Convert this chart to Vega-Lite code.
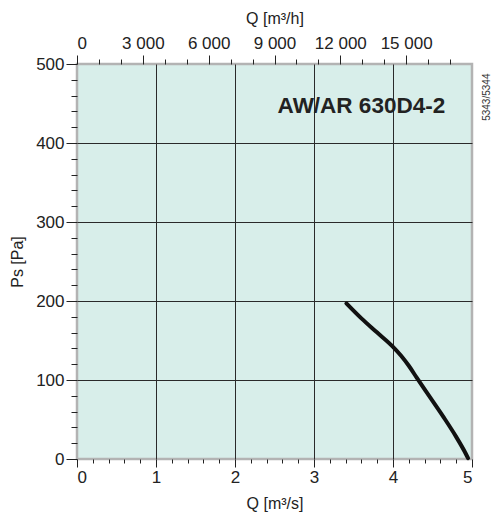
{
  "$schema": "https://vega.github.io/schema/vega-lite/v6.json",
  "width": 395,
  "height": 395,
  "autosize": {"type": "none"},
  "padding": {"left": 77, "top": 64, "right": 22, "bottom": 54},
  "background": "white",
  "config": {
    "view": {"fill": "#d8eeea", "stroke": "#b3b3b3", "strokeWidth": 2.5},
    "font": "Liberation Sans",
    "axis": {
      "labelFont": "Liberation Sans",
      "titleFont": "Liberation Sans",
      "labelFontSize": 17,
      "titleFontSize": 16,
      "titleFontWeight": "normal",
      "labelColor": "#222",
      "titleColor": "#222",
      "tickColor": "#222",
      "tickWidth": 1,
      "domain": false,
      "labelOverlap": false,
      "gridColor": "#2a2a2a",
      "gridWidth": 1
    }
  },
  "datasets": {
    "curve": [
      {"Q": 3.41, "Ps": 197},
      {"Q": 3.6, "Ps": 178},
      {"Q": 3.8, "Ps": 160},
      {"Q": 4.0, "Ps": 142},
      {"Q": 4.1, "Ps": 131},
      {"Q": 4.2, "Ps": 118},
      {"Q": 4.3, "Ps": 103},
      {"Q": 4.47, "Ps": 78},
      {"Q": 4.64, "Ps": 53},
      {"Q": 4.8, "Ps": 28},
      {"Q": 4.92, "Ps": 7},
      {"Q": 4.95, "Ps": 1}
    ],
    "title": [{"label": "AW/AR 630D4-2", "Q": 3.6, "Ps": 438}],
    "code": [{"label": "5343/5344", "Q": 5.19, "Ps": 458}],
    "top": [{"Qh": 0}, {"Qh": 18000}]
  },
  "resolve": {"scale": {"x": "independent", "y": "independent"}, "axis": {"x": "independent", "y": "independent"}},
  "layer": [
    {
      "data": {"name": "curve"},
      "mark": {"type": "line", "color": "#111", "strokeWidth": 4, "strokeCap": "round", "interpolate": "monotone"},
      "encoding": {
        "x": {
          "field": "Q", "type": "quantitative",
          "scale": {"domain": [0, 5], "nice": false},
          "axis": {
            "orient": "bottom",
            "title": "Q [m³/s]",
            "values": [0, 0.2, 0.4, 0.6, 0.8, 1, 1.2, 1.4, 1.6, 1.8, 2, 2.2, 2.4, 2.6, 2.8, 3, 3.2, 3.4, 3.6, 3.8, 4, 4.2, 4.4, 4.6, 4.8, 5],
            "labelExpr": "datum.value % 1 === 0 ? format(datum.value, 'd') : ''",
            "labelPadding": 2,
            "tickSize": {"condition": {"test": "datum.value % 1 === 0", "value": 8}, "value": 4},
            "grid": true,
            "gridOpacity": {"condition": {"test": "datum.value % 1 === 0 && datum.value > 0 && datum.value < 5", "value": 1}, "value": 0},
            "titlePadding": 10
          }
        },
        "y": {
          "field": "Ps", "type": "quantitative",
          "scale": {"domain": [0, 500], "nice": false},
          "axis": {
            "orient": "left",
            "title": "Ps [Pa]",
            "values": [0, 20, 40, 60, 80, 100, 120, 140, 160, 180, 200, 220, 240, 260, 280, 300, 320, 340, 360, 380, 400, 420, 440, 460, 480, 500],
            "labelExpr": "datum.value % 100 === 0 ? format(datum.value, 'd') : ''",
            "labelPadding": 2,
            "tickSize": {"condition": {"test": "datum.value % 100 === 0", "value": 11}, "value": 6},
            "grid": true,
            "gridOpacity": {"condition": {"test": "datum.value % 100 === 0 && datum.value > 0 && datum.value < 500", "value": 1}, "value": 0},
            "titlePadding": 10
          }
        }
      }
    },
    {
      "data": {"name": "title"},
      "mark": {"type": "text", "fontSize": 22.5, "fontWeight": "bold", "color": "#222", "align": "center", "baseline": "alphabetic", "font": "Liberation Sans"},
      "encoding": {
        "x": {"field": "Q", "type": "quantitative", "scale": {"domain": [0, 5], "nice": false}, "axis": null},
        "y": {"field": "Ps", "type": "quantitative", "scale": {"domain": [0, 500], "nice": false}, "axis": null},
        "text": {"field": "label"}
      }
    },
    {
      "data": {"name": "code"},
      "mark": {"type": "text", "fontSize": 10, "color": "#333", "align": "center", "baseline": "middle", "angle": 270, "font": "Liberation Sans"},
      "encoding": {
        "x": {"field": "Q", "type": "quantitative", "scale": {"domain": [0, 5], "nice": false}, "axis": null},
        "y": {"field": "Ps", "type": "quantitative", "scale": {"domain": [0, 500], "nice": false}, "axis": null},
        "text": {"field": "label"}
      }
    },
    {
      "data": {"name": "top"},
      "mark": {"type": "point", "opacity": 0},
      "encoding": {
        "x": {
          "field": "Qh", "type": "quantitative",
          "scale": {"domain": [0, 18000], "nice": false},
          "axis": {
            "orient": "top",
            "title": "Q [m³/h]",
            "values": [0, 1000, 2000, 3000, 4000, 5000, 6000, 7000, 8000, 9000, 10000, 11000, 12000, 13000, 14000, 15000, 16000, 17000],
            "labelExpr": "datum.value % 3000 === 0 ? (datum.value === 0 ? '0' : format(datum.value / 1000, 'd') + ' 000') : ''",
            "labelPadding": 3,
            "tickSize": {"condition": {"test": "datum.value % 3000 === 0", "value": 9}, "value": 5},
            "grid": false,
            "titlePadding": 8
          }
        }
      }
    }
  ]
}
